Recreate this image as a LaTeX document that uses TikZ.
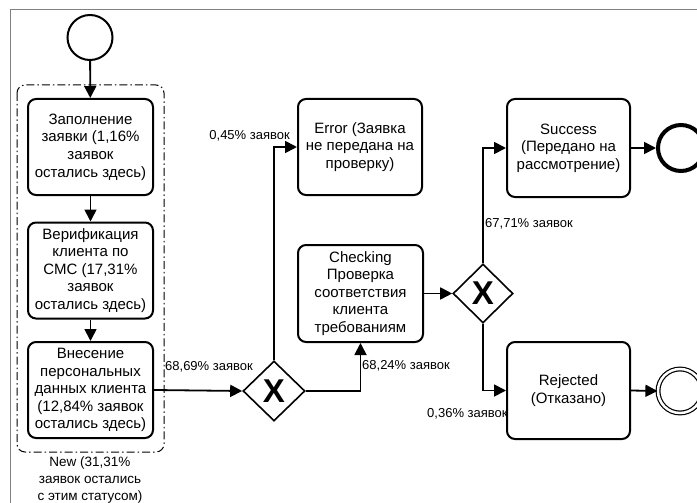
\documentclass[tikz,border=0pt]{standalone}
\usepackage{fontspec}
\setmainfont{Liberation Sans}
\usetikzlibrary{arrows.meta,shapes.geometric}
\tikzset{
  boxtext/.style={font=\fontsize{15}{17.6}\selectfont, align=center},
  task/.style={draw, line width=2pt, rounded corners=8pt, boxtext, inner sep=0pt,
    minimum width=#1, minimum height=96pt},
  task/.default=125pt,
  gate/.style={draw, diamond, line width=1.6pt, minimum width=62pt, minimum height=60pt, inner sep=0pt,
    font=\fontsize{33}{33}\selectfont\bfseries},
  flow/.style={line width=1.8pt, -{Triangle[length=12pt,width=12pt]}},
  lbl/.style={font=\fontsize{13}{15}\selectfont, inner sep=0pt},
  startev/.style={draw, circle, line width=2pt, minimum size=45pt, inner sep=0pt},
  endev/.style={draw, circle, line width=4pt, minimum size=46pt, inner sep=0pt},
  interev/.style={draw, circle, double, line width=1.2pt, double distance=2.5pt, minimum size=44pt, inner sep=0pt},
}
\begin{document}
\begin{tikzpicture}[x=1pt,y=-1pt]
\useasboundingbox (0,0) rectangle (697,503);
% frame
\draw[gray, line width=1pt] (10,503) -- (10,10) -- (697,10);
% group
\draw[line width=1pt, rounded corners=8pt, dash pattern=on 8pt off 3pt on 1.5pt off 3pt] (17,85) rectangle (164,452);
\node[font=\fontsize{13.5}{17}\selectfont, align=center] (newlbl) at (90,480) {New (31,31\%\\заявок остались\\с этим статусом)};
% events
\node[startev] (start) at (90,37.5) {};
\node[task] (b1) at (90.5,147) {Заполнение\\заявки (1,16\%\\заявок\\остались здесь)};
\node[task] (b2) at (90.5,270.5) {Верификация\\клиента по\\СМС (17,31\%\\заявок\\остались здесь)};
\node[task] (b3) at (90.5,390) {Внесение\\персональных\\данных клиента\\(12,84\% заявок\\остались здесь)};
\node[gate] (g1) at (274,391) {X};
\node[task=124pt] (err) at (360,147) {Error (Заявка\\не передана на\\проверку)};
\node[task, minimum height=97pt] (chk) at (360.5,293.5) {Checking\\Проверка\\соответствия\\клиента\\требованиям};
\node[gate, minimum width=60pt, minimum height=59pt] (g2) at (483,293.5) {X};
\node[task=123pt, minimum height=98pt] (succ) at (568.5,148) {Success\\(Передано на\\рассмотрение)};
\node[task=123pt, minimum height=97pt] (rej) at (568.5,390.5) {Rejected\\(Отказано)};
\node[endev] (end1) at (681,148) {};
\node[interev] (end2) at (680,391) {};
% flows
\draw[flow] (start) -- (b1);
\draw[flow] (b1) -- (b2);
\draw[flow] (b2) -- (b3);
\draw[flow] (b3.east) -- (g1.west);
\draw[flow] (g1.north) |- (err.west);
\draw[flow] (g1.east) -| (chk.south);
\draw[flow] (chk.east) -- (g2.west);
\draw[flow] (g2.north) |- (succ.west);
\draw[flow] (g2.south) |- (rej.west);
\draw[flow] (succ.east) -- (end1.west);
\draw[flow] (rej.east) -- (end2.west);
% labels
\node[lbl, anchor=east] (l1) at (290,136) {0,45\% заявок};
\node[lbl, anchor=west] (l2) at (165,367) {68,69\% заявок};
\node[lbl, anchor=west] (l3) at (362,366) {68,24\% заявок};
\node[lbl, anchor=west] (l4) at (485,224) {67,71\% заявок};
\node[lbl, anchor=west] (l5) at (427,414) {0,36\% заявок};
\end{tikzpicture}
\end{document}
